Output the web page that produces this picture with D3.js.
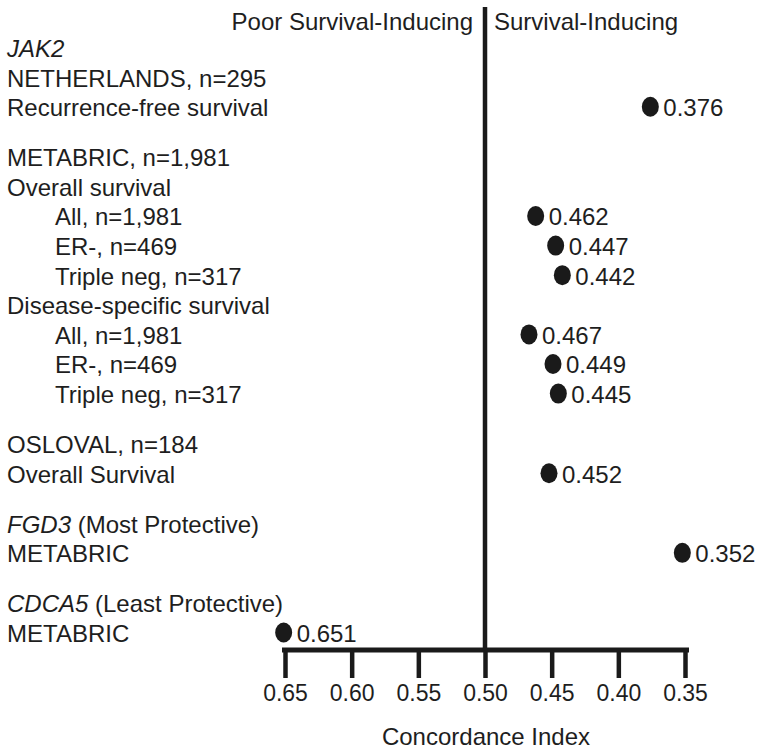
<!DOCTYPE html>
<html><head><meta charset="utf-8">
<script src="https://cdn.jsdelivr.net/npm/d3@7"></script>
<style>
html,body{margin:0;padding:0;background:#fff;}
svg text{font-family:"Liberation Sans",Arial,sans-serif;fill:#1e1e1e;}
</style></head>
<body><svg id="chart" width="762" height="752"></svg>
<script>
// Row labels (italic gene name part, plain part)
const rowItalic = ["JAK2","","","","","","","","","","","","","","FGD3","","CDCA5",""];
const rowText = ["","NETHERLANDS, n=295","Recurrence-free survival","METABRIC, n=1,981","Overall survival",
  "All, n=1,981","ER-, n=469","Triple neg, n=317","Disease-specific survival",
  "All, n=1,981","ER-, n=469","Triple neg, n=317","OSLOVAL, n=184","Overall Survival",
  " (Most Protective)","METABRIC"," (Least Protective)","METABRIC"];
const rowIndent = [0,0,0,0,0,1,1,1,0,1,1,1,0,0,0,0,0,0];
const rowGroup = [0,0,0,1,1,1,1,1,1,1,1,1,2,2,3,3,4,4];
const cIndex = [null,null,0.376,null,null,0.462,0.447,0.442,null,0.467,0.449,0.445,null,0.452,null,0.352,null,0.651];
const tickValues = [0.65,0.60,0.55,0.50,0.45,0.40,0.35];
const headerLeft = "Poor Survival-Inducing";
const headerRight = "Survival-Inducing";
const axisTitle = "Concordance Index";

const svg = d3.select("#chart");
const gapFrac = 0.69;
const nPos = rowText.length - 1 + (d3.max(rowGroup)) * gapFrac;
const x = d3.scaleLinear().domain([0.65, 0.35]).range([285, 685]);
const y = d3.scaleLinear().domain([0, nPos]).range([57, 642]);
const rowY = (i) => y(i + rowGroup[i] * gapFrac);
const fs = 24;
const ink = "#1a1a1a";

// Row labels
const lab = svg.append("g").selectAll("text").data(rowText).join("text")
  .attr("x", (d,i) => rowIndent[i] ? 55 : 7)
  .attr("y", (d,i) => rowY(i))
  .attr("font-size", fs);
lab.each(function(d,i){
  const t = d3.select(this);
  if (rowItalic[i]) t.append("tspan").attr("font-style","italic").text(rowItalic[i]);
  if (d) t.append("tspan").text(d);
});

// Axis
const axisY = 650;
const axis = d3.axisBottom(x).tickValues(tickValues).tickFormat(d3.format(".2f")).tickSize(28).tickPadding(6).tickSizeOuter(0);
const gAx = svg.append("g").attr("transform", `translate(0,${axisY})`).call(axis);
gAx.select(".domain").remove();
gAx.append("line").attr("x1", x(0.65) - 3).attr("x2", x(0.35) + 4).attr("y1", 0).attr("y2", 0)
  .attr("stroke", ink).attr("stroke-width", 5);
gAx.selectAll(".tick line").attr("stroke", ink).attr("stroke-width", 4.5);
gAx.selectAll(".tick text").attr("font-size", 23).attr("fill", "#1e1e1e")
  .attr("font-family", '"Liberation Sans",Arial,sans-serif').attr("dy", "0.71em").attr("y", 35);

// Vertical reference line at 0.50
svg.append("line").attr("x1", x(0.5)).attr("x2", x(0.5)).attr("y1", 7).attr("y2", axisY)
  .attr("stroke", ink).attr("stroke-width", 4.5);

// Headers
svg.append("text").attr("x", x(0.5) - 12).attr("y", 30).attr("text-anchor","end").attr("font-size", fs).text(headerLeft);
svg.append("text").attr("x", x(0.5) + 9).attr("y", 30).attr("font-size", fs).text(headerRight);

// Points
const pts = rowText.map((d,i) => ({i, v: cIndex[i]})).filter(d => d.v !== null);
svg.append("g").selectAll("ellipse").data(pts).join("ellipse")
  .attr("cx", d => x(d.v)).attr("cy", d => rowY(d.i) - 9.5)
  .attr("rx", 8.5).attr("ry", 10).attr("fill", ink);
svg.append("g").selectAll("text").data(pts).join("text")
  .attr("x", d => x(d.v) + 13).attr("y", d => rowY(d.i))
  .attr("font-size", fs).text(d => d3.format(".3f")(d.v));

// Axis title
svg.append("text").attr("x", x(0.5) + 1).attr("y", 745).attr("text-anchor","middle").attr("font-size", fs).text(axisTitle);
</script></body></html>
